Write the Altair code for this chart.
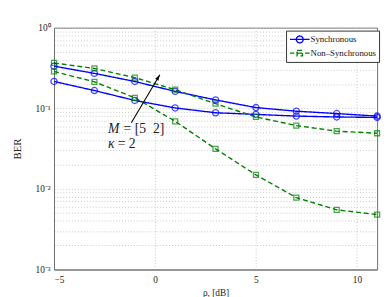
import altair as alt
import pandas as pd

# ---- data ----
rho = [-5, -3, -1, 1, 3, 5, 7, 9, 11]
sync_a = [0.333, 0.271, 0.215, 0.162, 0.127, 0.102, 0.092, 0.086, 0.080]
sync_b = [0.215, 0.166, 0.125, 0.101, 0.088, 0.084, 0.080, 0.078, 0.077]
nons_a = [0.365, 0.312, 0.240, 0.170, 0.114, 0.078, 0.061, 0.052, 0.049]
nons_b = [0.286, 0.213, 0.135, 0.069, 0.0314, 0.0149, 0.0078, 0.0055, 0.0048]
series_names = ["Synchronous", "Non–Synchronous"]
series_colors = ["#0000ff", "#008000"]
x_ticks = [-5, 0, 5, 10]
y_ticks = [round(m * 10.0 ** k, 10) for k in (-3, -2, -1) for m in range(1, 10)] + [1.0]

rows = []
for name, curve, vals in [
    (series_names[0], "sa", sync_a),
    (series_names[0], "sb", sync_b),
    (series_names[1], "na", nons_a),
    (series_names[1], "nb", nons_b),
]:
    for r, v in zip(rho, vals):
        rows.append({"rho": r, "ber": v, "series": name, "curve": curve})
df = pd.DataFrame(rows)

FONT = "Liberation Serif"

xs = alt.Scale(domain=[-5, 11], nice=False, zero=False)
ys = alt.Scale(type="log", domain=[0.001, 1], nice=False)
cs = alt.Scale(domain=series_names, range=series_colors)

xaxis = alt.Axis(values=x_ticks, title="ρ, [dB]", grid=True, gridDash=[1, 2],
                 gridColor="#c8c8c8", domainColor="#707070", tickSize=0,
                 labelFont=FONT, labelFontSize=9.5, labelColor="#222",
                 labelExpr="datum.value < 0 ? '−' + abs(datum.value) : datum.value",
                 labelPadding=5, titleFont=FONT, titleFontSize=9.5,
                 titleFontWeight="normal", titleColor="#222", titlePadding=4)
ylab = ("datum.value == 1 ? '10⁰' : datum.value == 0.1 ? '10⁻¹' : "
        "datum.value == 0.01 ? '10⁻²' : datum.value == 0.001 ? '10⁻³' : ''")
yaxis = alt.Axis(values=y_ticks, title="BER", grid=True, gridDash=[1, 2],
                 gridColor="#c8c8c8", domainColor="#707070", tickSize=0,
                 labelFont=FONT, labelFontSize=9.5, labelColor="#222",
                 labelExpr=ylab, labelOverlap=False, labelPadding=4,
                 titleFont=FONT, titleFontSize=11, titleFontWeight="normal",
                 titleColor="#222", titlePadding=13)

X = alt.X("rho:Q", scale=xs, axis=xaxis)
Y = alt.Y("ber:Q", scale=ys, axis=yaxis)

# legend carrier (invisible in plot, legend symbols = line + marker)
sync_sym = "M-1,0H3M0.3,0A0.7,0.7 0 1,1 1.7,0A0.7,0.7 0 1,1 0.3,0"
nons_sym = "M-1,0H-0.1M0.45,0H1.55M2.1,0H3M0.45,-0.55H1.55V0.55H0.45Z"
leg_df = pd.DataFrame({"series": series_names})
carrier = alt.Chart(leg_df).mark_point(filled=False, opacity=0).encode(
    color=alt.Color("series:N", scale=cs, legend=alt.Legend(
        title=None, orient="none", legendX=237, legendY=3,
        fillColor="white", strokeColor="#333", padding=3,
        labelFont=FONT, labelFontSize=9, labelColor="#111", labelOffset=10,
        symbolSize=100, symbolStrokeWidth=1.4, symbolOpacity=1, rowPadding=1)),
    shape=alt.Shape("series:N", scale=alt.Scale(domain=series_names, range=[sync_sym, nons_sym]),
                    legend=alt.Legend(title=None, orient="none", legendX=237, legendY=3)),
)

lines = alt.Chart(df).mark_line(strokeWidth=1.4).encode(
    x=X, y=Y,
    color=alt.Color("series:N", scale=cs),
    strokeDash=alt.StrokeDash("series:N", scale=alt.Scale(domain=series_names, range=[[1, 0], [5, 3]]), legend=None),
    detail="curve:N",
)

pts_sync = alt.Chart(df).transform_filter(alt.datum.series == series_names[0]).mark_point(
    shape="circle", filled=False, size=40, strokeWidth=1.3
).encode(x=X, y=Y, color=alt.Color("series:N", scale=cs))

pts_nons = alt.Chart(df).transform_filter(alt.datum.series == series_names[1]).mark_point(
    shape="square", filled=False, size=26, strokeWidth=1.3
).encode(x=X, y=Y, color=alt.Color("series:N", scale=cs))

# annotation
arrow_df = pd.DataFrame({"x1": [-1.17], "y1": [0.0663], "x2": [0.24], "y2": [0.261]})
arrow_line = alt.Chart(arrow_df).mark_rule(color="black", strokeWidth=1.1).encode(
    x=alt.X("x1:Q", scale=xs), y=alt.Y("y1:Q", scale=ys),
    x2="x2:Q", y2="y2:Q")
arrow_head = alt.Chart(arrow_df).mark_point(
    shape="M0,0L-0.45,1.5L0.45,1.5Z", filled=True, size=64, angle=31, color="black", opacity=1
).encode(x=alt.X("x2:Q", scale=xs), y=alt.Y("y2:Q", scale=ys))

txt_df = pd.DataFrame({"x": [-2.33, -2.33], "y": [0.0545, 0.0358],
                       "a": ["M", "κ"], "b": ["= [5\u20022]", "= 2"]})
t_it = alt.Chart(txt_df).mark_text(font=FONT, fontSize=14, fontStyle="italic",
                                   align="left", baseline="middle", color="#222").encode(
    x=alt.X("x:Q", scale=xs), y=alt.Y("y:Q", scale=ys), text="a:N")
t_up1 = alt.Chart(txt_df.iloc[[0]]).mark_text(font=FONT, fontSize=14, align="left",
                                              baseline="middle", dx=16, color="#222").encode(
    x=alt.X("x:Q", scale=xs), y=alt.Y("y:Q", scale=ys), text="b:N")
t_up2 = alt.Chart(txt_df.iloc[[1]]).mark_text(font=FONT, fontSize=14, align="left",
                                              baseline="middle", dx=10, color="#222").encode(
    x=alt.X("x:Q", scale=xs), y=alt.Y("y:Q", scale=ys), text="b:N")

chart = alt.layer(carrier, lines, pts_sync, pts_nons, arrow_line, arrow_head, t_it, t_up1, t_up2).properties(
    width=330, height=247,
    autosize=alt.AutoSizeParams(type="none"),
    padding={"left": 47, "top": 17, "right": 5, "bottom": 25},
    background="white",
).configure_view(stroke="#707070", strokeWidth=1)

chart.save("out.html", embed_options={"renderer": "svg", "actions": False})
